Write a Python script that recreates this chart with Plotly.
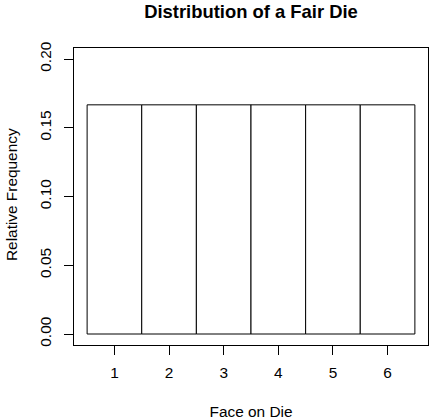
import plotly.graph_objects as go

faces = [1, 2, 3, 4, 5, 6]
rel_freq = [1/6, 1/6, 1/6, 1/6, 1/6, 1/6]
y_ticks = [0.00, 0.05, 0.10, 0.15, 0.20]
y_tick_labels = ["0.00", "0.05", "0.10", "0.15", "0.20"]
x_tick_labels = ["1", "2", "3", "4", "5", "6"]

FONT = "Liberation Sans, Arial, Helvetica, sans-serif"
TICKFONT = dict(family=FONT, size=15.4, color="black")

fig = go.Figure(
    go.Bar(
        x=faces,
        y=rel_freq,
        width=1,
        marker=dict(color="white", line=dict(color="black", width=1)),
        showlegend=False,
        hoverinfo="x+y",
    )
)

fig.update_layout(
    width=431,
    height=420,
    margin=dict(l=74, r=3, t=48, b=75),
    paper_bgcolor="white",
    plot_bgcolor="white",
    font=dict(family=FONT, size=15.4, color="black"),
    title=dict(
        text="<b>Distribution of a Fair Die</b>",
        font=dict(family=FONT, size=18.4, color="black"),
        x=0.5, xref="paper", xanchor="center",
        y=1 - 11.5 / 420, yref="container", yanchor="middle",
    ),
    xaxis=dict(
        range=[0.26, 6.74],
        automargin=False,
        tickmode="array",
        tickvals=faces,
        ticktext=x_tick_labels,
        tickfont=TICKFONT,
        ticklabelstandoff=5,
        ticks="outside",
        ticklen=9,
        tickwidth=1,
        tickcolor="black",
        showline=True,
        linecolor="black",
        linewidth=1,
        mirror=True,
        showgrid=False,
        zeroline=False,
        title=dict(text="Face on Die", standoff=26, font=TICKFONT),
    ),
    yaxis=dict(
        range=[-0.008, 0.208],
        automargin=False,
        tickmode="array",
        tickvals=y_ticks,
        ticktext=y_tick_labels,
        tickfont=TICKFONT,
        ticklabelstandoff=7,
        tickangle=-90,
        ticks="outside",
        ticklen=9,
        tickwidth=1,
        tickcolor="black",
        showline=True,
        linecolor="black",
        linewidth=1,
        mirror=True,
        showgrid=False,
        zeroline=False,
    ),
    annotations=[
        dict(
            text="Relative Frequency",
            textangle=-90,
            xref="paper", x=0, xanchor="center", xshift=-63,
            yref="paper", y=0.505, yanchor="middle",
            showarrow=False,
            font=TICKFONT,
        )
    ],
)

fig.write_html(
    "out.html",
    config={"displayModeBar": False},
    post_script="document.body.style.margin='0';document.body.style.overflow='hidden';",
)
